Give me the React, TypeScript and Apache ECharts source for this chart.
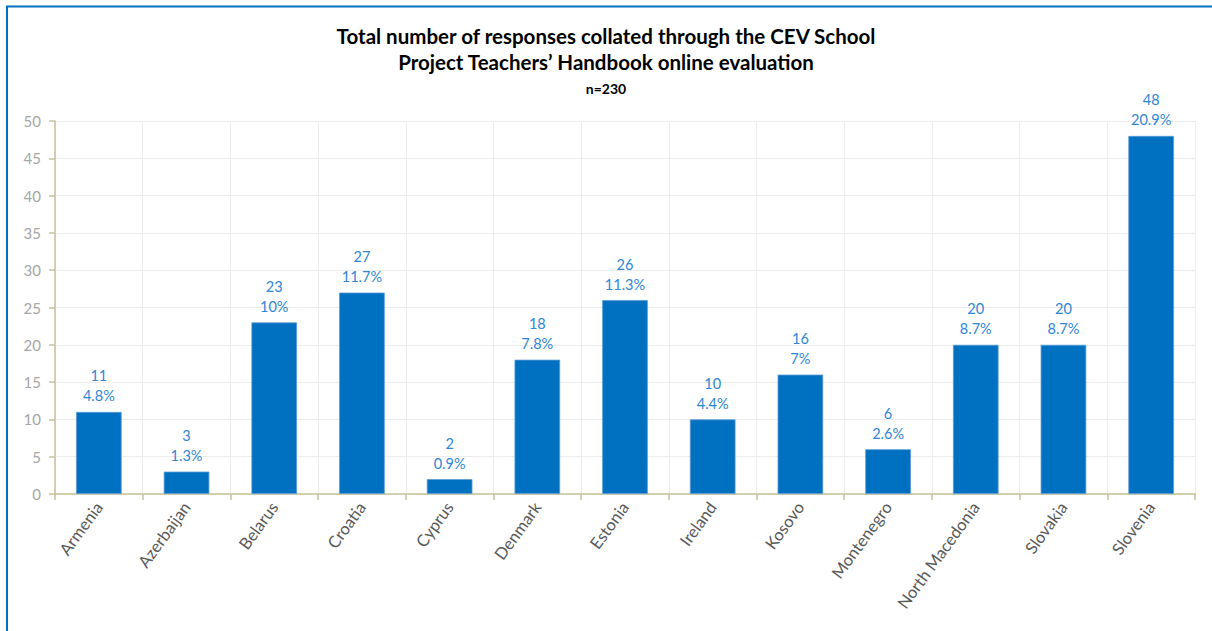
import React, { useEffect, useRef } from "react";
import * as echarts from "echarts";

const categories = ["Armenia", "Azerbaijan", "Belarus", "Croatia", "Cyprus", "Denmark", "Estonia", "Ireland", "Kosovo", "Montenegro", "North Macedonia", "Slovakia", "Slovenia"];
const values = [11, 3, 23, 27, 2, 18, 26, 10, 16, 6, 20, 20, 48];
const percents = ["4.8%", "1.3%", "10%", "11.7%", "0.9%", "7.8%", "11.3%", "4.4%", "7%", "2.6%", "8.7%", "8.7%", "20.9%"];
const titleLines = ["Total number of responses collated through the CEV School", "Project Teachers\u2019 Handbook online evaluation"];
const subtitle = "n=230";

const FONT = "Lato, 'Open Sans', sans-serif";

export default function App() {
  const ref = useRef<HTMLDivElement>(null);
  useEffect(() => {
    const chart = echarts.init(ref.current!, null, { renderer: "svg" });
    chart.setOption({
      animation: false,
      backgroundColor: "#ffffff",
      textStyle: { fontFamily: FONT },
      title: [
        {
          text: titleLines.join("\n"),
          left: "center",
          top: 18,
          textStyle: { fontSize: 20.5, fontWeight: "bold", color: "#000000", lineHeight: 26, fontFamily: FONT },
        },
        {
          text: subtitle,
          left: "center",
          top: 76,
          textStyle: { fontSize: 14, fontWeight: "bold", color: "#000000", fontFamily: FONT },
        },
      ],
      graphic: [
        {
          type: "polyline",
          shape: { points: [[7, 640], [7, 6.5], [1220, 6.5]] },
          style: { stroke: "#0070c0", lineWidth: 2, fill: null },
          silent: true,
        },
      ],
      grid: { left: 55, right: 17, top: 121, bottom: 137, containLabel: false },
      xAxis: {
        type: "category",
        data: categories,
        boundaryGap: true,
        axisLine: { show: true, lineStyle: { color: "#c9c19b", width: 1.5 } },
        axisTick: { show: true, length: 6, lineStyle: { color: "#c9c19b", width: 1.5 } },
        splitLine: { show: true, lineStyle: { color: "#ececec", width: 1 } },
        axisLabel: {
          rotate: 54,
          color: "#595959",
          fontSize: 16.5,
          fontFamily: FONT,
          margin: 10,
          interval: 0,
        },
      },
      yAxis: {
        type: "value",
        min: 0,
        max: 50,
        interval: 5,
        axisLine: { show: true, lineStyle: { color: "#c9c19b", width: 1.5 } },
        axisTick: { show: true, length: 6, lineStyle: { color: "#c9c19b", width: 1.5 } },
        splitLine: { show: true, lineStyle: { color: "#ececec", width: 1 } },
        axisLabel: { color: "#a6a6a6", fontSize: 15, fontFamily: FONT, margin: 14 },
      },
      series: [
        {
          type: "bar",
          data: values,
          barWidth: "52%",
          itemStyle: { color: "#0070c0", borderColor: "#5b9bd5", borderWidth: 0.8 },
          label: {
            show: true,
            position: "top",
            distance: 6,
            color: "#2e86d6",
            fontSize: 14.5,
            lineHeight: 20,
            fontFamily: FONT,
            formatter: (p: any) => `${values[p.dataIndex]}\n${percents[p.dataIndex]}`,
          },
        },
      ],
    });
    return () => chart.dispose();
  }, []);
  return (
    <div
      ref={ref}
      style={{ position: "fixed", left: 0, top: 0, width: 1212, height: 631 }}
    />
  );
}
